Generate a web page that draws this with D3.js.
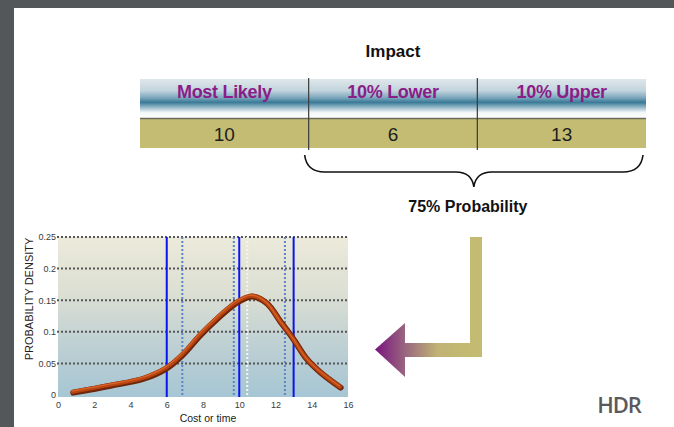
<!DOCTYPE html>
<html lang="en">
  <head>
    <meta charset="utf-8">
    <title>Impact range</title>
    <style>
      body { margin: 0; background: #fff; }
      svg { display: block; font-family: "Liberation Sans", Arial, sans-serif; }
    </style>
    <script src="https://d3js.org/d3.v7.min.js"></script>
  </head>
  <body>
    <script>
    // table
    const categories = ["Most Likely", "10% Lower", "10% Upper"];
    const impactValues = [10, 6, 13];

    // density chart
    const xTicks = [0, 2, 4, 6, 8, 10, 12, 14, 16];
    const yTicks = [0, 0.05, 0.1, 0.15, 0.2, 0.25];
    const curveX = [0.81, 2.87, 4.7, 5.94, 6.83, 7.83, 8.76, 9.67, 10.0, 10.7, 11.5, 12.25, 12.95, 13.7, 14.45, 15.56];
    const curveY = [0.005, 0.016, 0.027, 0.043, 0.064, 0.096, 0.122, 0.144, 0.15, 0.157, 0.146, 0.117, 0.09, 0.058, 0.037, 0.013];
    const solidMarks = [6, 10, 13];
    const dottedMarks = [6.86, 9.7, 12.52];
    const modeMarks = [10.44];

    const W = 674, H = 427;

    const svg = d3.select("body").append("svg")
      .attr("width", W)
      .attr("height", H);

    const defs = svg.append("defs");

    const headGrad = defs.append("linearGradient")
      .attr("id", "headGrad").attr("x1", 0).attr("y1", 0).attr("x2", 0).attr("y2", 1);
    [[0, "#dfe7eb"], [0.3, "#c2d4dd"], [0.48, "#7ba7bd"], [0.6, "#3a7a97"], [0.72, "#90b5c6"], [0.86, "#f4f7f8"], [1, "#ffffff"]]
      .forEach(s => headGrad.append("stop").attr("offset", s[0]).attr("stop-color", s[1]));

    const plotGrad = defs.append("linearGradient")
      .attr("id", "plotGrad").attr("x1", 0).attr("y1", 0).attr("x2", 0).attr("y2", 1);
    [[0, "#eceadb"], [0.35, "#dcdfd3"], [0.7, "#bccfd3"], [1, "#a6c6d4"]]
      .forEach(s => plotGrad.append("stop").attr("offset", s[0]).attr("stop-color", s[1]));

    const arrowGrad = defs.append("linearGradient")
      .attr("id", "arrowGrad").attr("gradientUnits", "userSpaceOnUse")
      .attr("x1", 376).attr("y1", 0).attr("x2", 470).attr("y2", 0);
    [[0, "#7b167e"], [0.3, "#98647f"], [0.65, "#c0b274"], [1, "#c4bb72"]]
      .forEach(s => arrowGrad.append("stop").attr("offset", s[0]).attr("stop-color", s[1]));

    // slide frame
    svg.append("rect").attr("x", 0).attr("y", 0).attr("width", W).attr("height", 8).attr("fill", "#53575a");
    svg.append("rect").attr("x", 0).attr("y", 0).attr("width", 14).attr("height", H).attr("fill", "#53575a");

    // ---- table ----
    const col = d3.scaleBand().domain(categories).range([140, 646]);

    svg.append("text")
      .attr("x", (140 + 646) / 2)
      .attr("y", 57)
      .attr("text-anchor", "middle")
      .style("font-size", "17px")
      .style("font-weight", "bold")
      .style("fill", "#111")
      .text("Impact");

    svg.append("rect")
      .attr("x", 140).attr("y", 79).attr("width", 506).attr("height", 39)
      .attr("fill", "url(#headGrad)");

    svg.append("rect")
      .attr("x", 140).attr("y", 118).attr("width", 506).attr("height", 30)
      .attr("fill", "#c5bc73");

    svg.append("line")
      .attr("x1", 140).attr("x2", 646).attr("y1", 118.5).attr("y2", 118.5)
      .attr("stroke", "#6c6c5c").attr("stroke-width", 1.5);

    svg.selectAll(".divider")
      .data(categories.slice(1))
      .join("line")
      .attr("class", "divider")
      .attr("x1", d => col(d)).attr("x2", d => col(d))
      .attr("y1", 78).attr("y2", 150)
      .attr("stroke", "#3a3a3a").attr("stroke-width", 1.2);

    svg.selectAll(".head")
      .data(categories)
      .join("text")
      .attr("class", "head")
      .attr("x", d => col(d) + col.bandwidth() / 2)
      .attr("y", 98)
      .attr("text-anchor", "middle")
      .style("font-size", "18px")
      .style("font-weight", "bold")
      .style("letter-spacing", "-0.3px")
      .style("fill", "#8a1d88")
      .text(d => d);

    svg.selectAll(".val")
      .data(impactValues)
      .join("text")
      .attr("class", "val")
      .attr("x", (d, i) => col(categories[i]) + col.bandwidth() / 2)
      .attr("y", 141)
      .attr("text-anchor", "middle")
      .style("font-size", "19px")
      .style("fill", "#1e1e1e")
      .text(d => d);

    // brace under the lower/upper columns
    const bL = col(categories[1]) - 4, bR = col.range()[1] - 3;
    const bM = (bL + bR) / 2, bTop = 155, bMid = 172, bTip = 187;
    svg.append("path")
      .attr("d", `M${bL},${bTop} Q${bL + 2},${bMid} ${bL + 20},${bMid} L${bM - 18},${bMid} Q${bM - 2},${bMid} ${bM},${bTip}` +
                 ` Q${bM + 2},${bMid} ${bM + 18},${bMid} L${bR - 20},${bMid} Q${bR - 2},${bMid} ${bR},${bTop}`)
      .attr("fill", "none")
      .attr("stroke", "#111")
      .attr("stroke-width", 1.6);

    svg.append("text")
      .attr("x", bM - 6)
      .attr("y", 212)
      .attr("text-anchor", "middle")
      .style("font-size", "16px")
      .style("font-weight", "bold")
      .style("fill", "#111")
      .text("75% Probability");

    // ---- arrow ----
    svg.append("path")
      .attr("d", "M470,237 L482,237 L482,357 L405,357 L405,377 L375,349.5 L405,323 L405,343 L470,343 Z")
      .attr("fill", "url(#arrowGrad)");

    // ---- density chart ----
    const x = d3.scaleLinear().domain([0, 16]).range([58, 348]);
    const y = d3.scaleLinear().domain([0, 0.25]).range([395, 237]);

    svg.append("rect")
      .attr("x", x(0)).attr("y", y(0.25))
      .attr("width", x(16) - x(0)).attr("height", y(0) - y(0.25) + 2)
      .attr("fill", "url(#plotGrad)");

    svg.selectAll(".grid")
      .data(yTicks.filter(d => d > 0))
      .join("line")
      .attr("class", "grid")
      .attr("x1", x(0) - 1).attr("x2", x(16))
      .attr("y1", d => y(d)).attr("y2", d => y(d))
      .attr("stroke", "#555")
      .attr("stroke-width", 2)
      .attr("stroke-dasharray", "2,2");

    svg.selectAll(".dotted")
      .data(dottedMarks)
      .join("line")
      .attr("class", "dotted")
      .attr("x1", d => x(d)).attr("x2", d => x(d))
      .attr("y1", y(0.25)).attr("y2", y(0) + 2)
      .attr("stroke", "#5a86c6")
      .attr("stroke-width", 2)
      .attr("stroke-dasharray", "2,2");

    svg.selectAll(".mode")
      .data(modeMarks)
      .join("line")
      .attr("class", "mode")
      .attr("x1", d => x(d)).attr("x2", d => x(d))
      .attr("y1", y(0.25)).attr("y2", y(0) + 2)
      .attr("stroke", "#f4f4f0")
      .attr("stroke-width", 2)
      .attr("stroke-dasharray", "2,2");

    svg.selectAll(".solid")
      .data(solidMarks)
      .join("line")
      .attr("class", "solid")
      .attr("x1", d => x(d)).attr("x2", d => x(d))
      .attr("y1", y(0.25)).attr("y2", y(0) + 2)
      .attr("stroke", "#0a14f0")
      .attr("stroke-width", 2);

    const pts = curveX.map((d, i) => [d, curveY[i]]);
    const line = d3.line()
      .x(d => x(d[0]))
      .y(d => y(d[1]))
      .curve(d3.curveCatmullRom.alpha(0.5));

    svg.append("path")
      .datum(pts)
      .attr("fill", "none")
      .attr("stroke", "#6e260c")
      .attr("stroke-width", 6)
      .attr("stroke-linecap", "round")
      .attr("transform", "translate(0.6,0.8)")
      .attr("d", line);

    svg.append("path")
      .datum(pts)
      .attr("fill", "none")
      .attr("stroke", "#b8440f")
      .attr("stroke-width", 4)
      .attr("stroke-linecap", "round")
      .attr("d", line);

    svg.append("path")
      .datum(pts)
      .attr("fill", "none")
      .attr("stroke", "#d8652c")
      .attr("stroke-width", 1.2)
      .attr("stroke-linecap", "round")
      .attr("transform", "translate(-0.5,-0.7)")
      .attr("d", line);

    const xAxis = svg.append("g")
      .attr("transform", `translate(0,${y(0)})`)
      .call(d3.axisBottom(x).tickValues(xTicks).tickSize(0).tickPadding(7));
    const yAxis = svg.append("g")
      .attr("transform", `translate(${x(0)},0)`)
      .call(d3.axisLeft(y).tickValues(yTicks).tickFormat(d => String(d)).tickSize(0).tickPadding(2));

    [xAxis, yAxis].forEach(g => {
      g.select(".domain").remove();
      g.selectAll("text")
        .style("font-family", "'Liberation Sans', Arial, sans-serif")
        .style("font-size", "9px")
        .style("fill", "#3a3a3a");
    });

    svg.append("text")
      .attr("x", (x(0) + x(16)) / 2 + 5)
      .attr("y", 422)
      .attr("text-anchor", "middle")
      .style("font-size", "10.5px")
      .style("fill", "#222")
      .text("Cost or time");

    svg.append("text")
      .attr("transform", "translate(33,299) rotate(-90)")
      .attr("text-anchor", "middle")
      .style("font-size", "11px")
      .style("fill", "#222")
      .text("PROBABILITY DENSITY");

    // logo
    svg.append("text")
      .attr("x", 619)
      .attr("y", 413)
      .attr("text-anchor", "middle")
      .style("font-family", "'Open Sans', sans-serif")
      .style("font-size", "22px")
      .style("font-weight", "600")
      .style("letter-spacing", "-1px")
      .style("fill", "#5a5a5c")
      .text("HDR");
    </script>
  </body>
</html>
